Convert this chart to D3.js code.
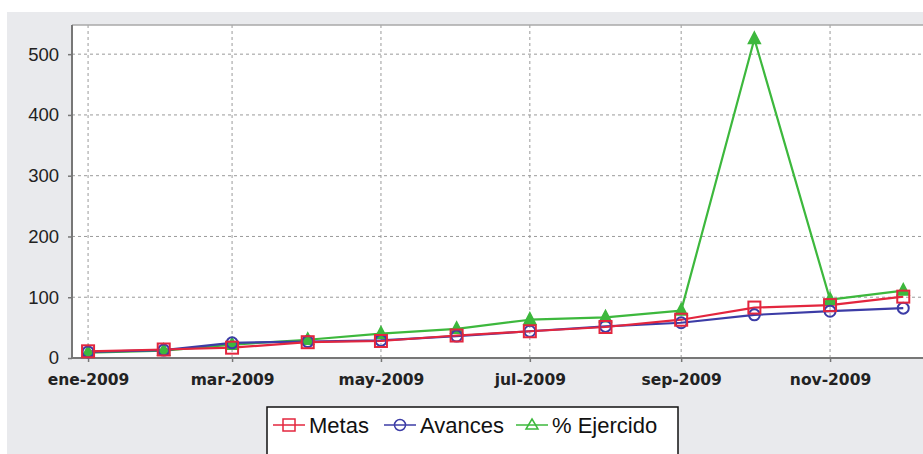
<!DOCTYPE html>
<html><head><meta charset="utf-8">
<script src="https://cdn.jsdelivr.net/npm/d3@7"></script>
<style>
html,body{margin:0;padding:0;background:#fff;}
svg{display:block;}
</style></head>
<body>
<svg id="chart" width="923" height="454"></svg>
<script>
const months = ["2009-01-01","2009-02-01","2009-03-01","2009-04-01","2009-05-01","2009-06-01",
                "2009-07-01","2009-08-01","2009-09-01","2009-10-01","2009-11-01","2009-12-01"];
const metas     = [11, 14, 17, 26, 28, 37, 44, 51, 63, 83, 87, 101];
const avances   = [10, 13, 25, 27, 29, 36, 44, 52, 58, 71, 77, 82];
const ejercido  = [9, 12, 22, 30, 40, 48, 63, 67, 78, 525, 96, 111];
const yTicks = [0, 100, 200, 300, 400, 500];
const xTickDates = ["2009-01-01","2009-03-01","2009-05-01","2009-07-01","2009-09-01","2009-11-01"];
const seriesNames = ["Metas", "Avances", "% Ejercido"];

const parse = d3.timeParse("%Y-%m-%d");
const es = d3.timeFormatLocale({
  dateTime: "%x, %X", date: "%d/%m/%Y", time: "%H:%M:%S", periods: ["AM","PM"],
  days: ["domingo","lunes","martes","miércoles","jueves","viernes","sábado"],
  shortDays: ["dom","lun","mar","mié","jue","vie","sáb"],
  months: ["enero","febrero","marzo","abril","mayo","junio","julio","agosto","septiembre","octubre","noviembre","diciembre"],
  shortMonths: ["ene","feb","mar","abr","may","jun","jul","ago","sep","oct","nov","dic"]
});
const fmt = es.format("%b-%Y");

const svg = d3.select("#chart");
const W = 923, H = 454;
const plot = {left: 72, top: 25, right: 923, bottom: 358};

// outer panel
svg.append("rect").attr("x", 7).attr("y", 12).attr("width", W - 7).attr("height", H - 12).attr("fill", "#e9eaed");
svg.append("rect").attr("x", plot.left).attr("y", plot.top)
  .attr("width", plot.right - plot.left).attr("height", plot.bottom - plot.top).attr("fill", "#fff");

const x = d3.scaleTime()
  .domain([new Date(2008, 11, 25, 10), new Date(2009, 11, 9, 2)])
  .range([plot.left, plot.right]);
const y = d3.scaleLinear().domain([0, 548]).range([plot.bottom, plot.top]);

const dates = months.map(parse);
const xt = xTickDates.map(parse);

// grid
const g = svg.append("g");
g.selectAll(".hg").data(yTicks).join("line")
  .attr("x1", plot.left).attr("x2", plot.right)
  .attr("y1", d => y(d)).attr("y2", d => y(d))
  .attr("stroke", "#9a9a9a").attr("stroke-width", 1).attr("stroke-dasharray", "3,3");
g.selectAll(".vg").data(xt).join("line")
  .attr("x1", d => x(d)).attr("x2", d => x(d))
  .attr("y1", plot.top).attr("y2", plot.bottom)
  .attr("stroke", "#9a9a9a").attr("stroke-width", 1).attr("stroke-dasharray", "3,3");

// frame lines
svg.append("line").attr("x1", plot.left).attr("x2", plot.right).attr("y1", plot.top).attr("y2", plot.top)
  .attr("stroke", "#a8a8a8").attr("stroke-width", 1.5);

// axes
const yAxis = svg.append("g").attr("transform", `translate(${plot.left},0)`)
  .call(d3.axisLeft(y).tickValues(yTicks).tickSize(4).tickPadding(9).tickFormat(d3.format("d")));
yAxis.select(".domain").attr("stroke", "#777").attr("stroke-width", 2).attr("d", `M0,${plot.top}V${plot.bottom}`);
yAxis.selectAll(".tick line").attr("stroke", "#777").attr("stroke-width", 1.5);
yAxis.selectAll("text").attr("font-family", "Liberation Sans, Arial, sans-serif").attr("font-size", 18.5)
  .attr("fill", "#222");

const xAxis = svg.append("g").attr("transform", `translate(0,${plot.bottom})`)
  .call(d3.axisBottom(x).tickValues(xt).tickSize(4).tickPadding(12).tickFormat(fmt));
xAxis.select(".domain").attr("stroke", "#777").attr("stroke-width", 2).attr("d", `M${plot.left},0H${plot.right}`);
xAxis.selectAll(".tick line").attr("stroke", "#777").attr("stroke-width", 1.5);
xAxis.selectAll("text").attr("font-family", "DejaVu Sans, sans-serif").attr("font-weight", "bold")
  .attr("font-size", 15.5).attr("fill", "#222");

// series
const series = [
  {name: seriesNames[2], values: ejercido, color: "#3db83d", shape: "tri"},
  {name: seriesNames[1], values: avances, color: "#3c3ca6", shape: "circ"},
  {name: seriesNames[0], values: metas, color: "#e3263e", shape: "sq"}
];
const line = d3.line().x((d, i) => x(dates[i])).y(d => y(d));
series.forEach(s => {
  svg.append("path").datum(s.values).attr("d", line).attr("fill", "none")
    .attr("stroke", s.color).attr("stroke-width", 2.2).attr("stroke-linejoin", "round");
});
function drawMarker(sel, shape, color, cx, cy) {
  if (shape === "sq") {
    sel.append("rect").attr("x", cx - 6).attr("y", cy - 6).attr("width", 12).attr("height", 12)
      .attr("fill", "none").attr("stroke", color).attr("stroke-width", 2);
  } else if (shape === "circ") {
    sel.append("circle").attr("cx", cx).attr("cy", cy).attr("r", 5.5)
      .attr("fill", "none").attr("stroke", color).attr("stroke-width", 2);
  } else {
    sel.append("path").attr("d", `M${cx},${cy - 7}L${cx + 6},${cy + 4.5}L${cx - 6},${cy + 4.5}Z`)
      .attr("fill", color).attr("stroke", color).attr("stroke-width", 1.5);
  }
}
series.forEach(s => {
  const mg = svg.append("g");
  s.values.forEach((v, i) => drawMarker(mg, s.shape, s.color, x(dates[i]), y(v)));
});

// legend
const lg = svg.append("g");
lg.append("rect").attr("x", 267).attr("y", 407).attr("width", 411).attr("height", 60)
  .attr("fill", "#fff").attr("stroke", "#111").attr("stroke-width", 1.5);
const legendItems = [
  {name: seriesNames[0], color: "#e3263e", shape: "sq", sx: 273, tx: 309},
  {name: seriesNames[1], color: "#3c3ca6", shape: "circ", sx: 384, tx: 420},
  {name: seriesNames[2], color: "#3db83d", shape: "tri", sx: 516, tx: 552}
];
legendItems.forEach(it => {
  lg.append("line").attr("x1", it.sx).attr("x2", it.sx + 32).attr("y1", 425).attr("y2", 425)
    .attr("stroke", it.color).attr("stroke-width", 1.5);
  if (it.shape === "tri") {
    const cx = it.sx + 16, cy = 425;
    lg.append("path").attr("d", `M${cx},${cy - 6}L${cx + 6},${cy + 4}L${cx - 6},${cy + 4}Z`)
      .attr("fill", "none").attr("stroke", it.color).attr("stroke-width", 1.5);
  } else if (it.shape === "sq") {
    lg.append("rect").attr("x", it.sx + 10).attr("y", 419).attr("width", 12).attr("height", 12)
      .attr("fill", "none").attr("stroke", it.color).attr("stroke-width", 1.5);
  } else {
    lg.append("circle").attr("cx", it.sx + 16).attr("cy", 425).attr("r", 5.5)
      .attr("fill", "none").attr("stroke", it.color).attr("stroke-width", 1.5);
  }
  lg.append("text").attr("x", it.tx).attr("y", 433).text(it.name)
    .attr("font-family", "Liberation Sans, Arial, sans-serif").attr("font-size", 22).attr("fill", "#111");
});
</script>
</body></html>
